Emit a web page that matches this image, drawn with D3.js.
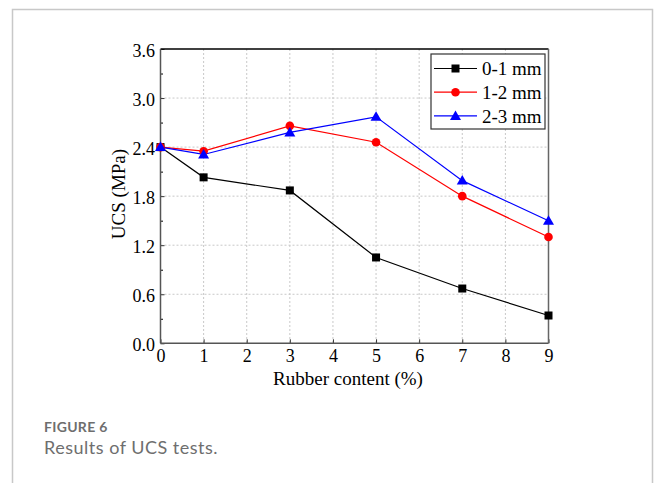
<!DOCTYPE html>
<html><head><meta charset="utf-8">
<script src="https://cdn.jsdelivr.net/npm/d3@7"></script>
<style>body{margin:0;background:#fff}svg{display:block}</style>
</head><body>
<svg id="c" width="657" height="483"></svg>
<script>
const rubber = [0, 1, 3, 5, 7, 9];
const s01 = [2.40, 2.03, 1.87, 1.05, 0.67, 0.34];
const s12 = [2.40, 2.35, 2.66, 2.46, 1.80, 1.30];
const s23 = [2.40, 2.31, 2.58, 2.77, 1.99, 1.50];
const seriesNames = ["0-1 mm", "1-2 mm", "2-3 mm"];
const seriesColors = ["#000000", "#ff0000", "#0000ff"];
const seriesMarkers = ["square", "circle", "triangle"];
const xTicks = [0,1,2,3,4,5,6,7,8,9];
const yTicks = [0.0, 0.6, 1.2, 1.8, 2.4, 3.0, 3.6];

const svg = d3.select("#c");
// card border
svg.append("path").attr("d","M12.5,483 V9.5 H652.5 V483").attr("fill","none").attr("stroke","#c8c8c8").attr("stroke-width",1.5);

const L=160.5, R=548.5, T=49, B=343.3;
const x = d3.scaleLinear().domain([0,9]).range([L,R]);
const y = d3.scaleLinear().domain([0,3.6]).range([B,T]);
const serif = "'Liberation Serif','Times New Roman',serif";

// grid
const g = svg.append("g");
xTicks.slice(1,-1).forEach(t=>g.append("line").attr("x1",x(t)).attr("x2",x(t)).attr("y1",T).attr("y2",B)
  .attr("stroke","#c8c8c8").attr("stroke-dasharray","2,2").attr("stroke-width",1));
yTicks.slice(1,-1).forEach(t=>g.append("line").attr("x1",L).attr("x2",R).attr("y1",y(t)).attr("y2",y(t))
  .attr("stroke","#c8c8c8").attr("stroke-dasharray","2,2").attr("stroke-width",1));

// axes
const xAxis = d3.axisBottom(x).tickValues(xTicks).tickSize(-4).tickPadding(6).tickFormat(d3.format("d"));
const yAxis = d3.axisLeft(y).tickValues(yTicks).tickSize(-4).tickPadding(5.5).tickFormat(d3.format(".1f"));
const yMinor = d3.axisLeft(y).tickValues(d3.range(0.3,3.6,0.6)).tickSize(-2.5).tickFormat("");
const gx = svg.append("g").attr("transform",`translate(0,${B})`).call(xAxis);
const gy = svg.append("g").attr("transform",`translate(${L},0)`).call(yAxis);
svg.append("g").attr("transform",`translate(${L},0)`).call(yMinor).select(".domain").remove();
[gx,gy].forEach(a=>{
  a.selectAll("text").attr("font-family",serif).attr("font-size",18).attr("fill","#000");
  a.selectAll(".tick line").attr("stroke","#333");
  a.select(".domain").remove();
});
gx.selectAll("text").attr("y",19).attr("dy",0);
gy.selectAll("text").attr("dy","0.4em");
// frame
svg.append("line").attr("x1",L).attr("x2",R).attr("y1",T).attr("y2",T).attr("stroke","#000").attr("stroke-width",1.5);
svg.append("line").attr("x1",R).attr("x2",R).attr("y1",T).attr("y2",B).attr("stroke","#666").attr("stroke-width",1.5);
svg.append("line").attr("x1",L).attr("x2",L).attr("y1",T).attr("y2",B).attr("stroke","#555").attr("stroke-width",1.5);
svg.append("line").attr("x1",L).attr("x2",R).attr("y1",B).attr("y2",B).attr("stroke","#555").attr("stroke-width",1.5);

// titles
svg.append("text").attr("x",348).attr("y",385).attr("text-anchor","middle")
  .attr("font-family",serif).attr("font-size",19).text("Rubber content (%)");
svg.append("text").attr("transform",`translate(125,194) rotate(-90)`).attr("text-anchor","middle")
  .attr("font-family",serif).attr("font-size",19).text("UCS (MPa)");

function marker(sel, type, color){
  if(type==="square") sel.append("rect").attr("x",-4).attr("y",-4).attr("width",8).attr("height",8).attr("fill",color);
  else if(type==="circle") sel.append("circle").attr("r",4.3).attr("fill",color);
  else sel.append("path").attr("d","M0,-5.5 L5.5,4 L-5.5,4 Z").attr("fill",color);
}
const line = d3.line().x((d,i)=>x(rubber[i])).y(d=>y(d));
[s01,s12,s23].forEach((s,k)=>{
  svg.append("path").datum(s).attr("d",line).attr("fill","none").attr("stroke",seriesColors[k]).attr("stroke-width",1.2);
});
[s01,s12,s23].forEach((s,k)=>{
  s.forEach((v,i)=>{
    const m = svg.append("g").attr("transform",`translate(${x(rubber[i])},${y(v)})`);
    marker(m, seriesMarkers[k], seriesColors[k]);
  });
});

// legend
const lg = svg.append("g");
lg.append("rect").attr("x",431).attr("y",54).attr("width",114).attr("height",75).attr("fill","#fff").attr("stroke","#333").attr("stroke-width",1.2);
seriesNames.forEach((n,k)=>{
  const yy = 68.5 + k*23.7;
  lg.append("line").attr("x1",434).attr("x2",477).attr("y1",yy).attr("y2",yy).attr("stroke",seriesColors[k]).attr("stroke-width",1.2);
  const m = lg.append("g").attr("transform",`translate(455.5,${yy})`);
  marker(m, seriesMarkers[k], seriesColors[k]);
  lg.append("text").attr("x",482).attr("y",yy).attr("dy","0.35em").attr("font-family",serif).attr("font-size",19).text(n);
});

// caption
svg.append("text").attr("x",44).attr("y",432).attr("font-family","Lato,'Open Sans',sans-serif").attr("font-weight","bold")
  .attr("font-size",14).attr("letter-spacing",0.3).attr("fill","#6e6e6e").text("FIGURE 6");
svg.append("text").attr("x",44).attr("y",454).attr("font-family","Lato,'Open Sans',sans-serif")
  .attr("font-size",18).attr("letter-spacing",0.5).attr("fill","#6e6e6e").text("Results of UCS tests.");
</script>
</body></html>
